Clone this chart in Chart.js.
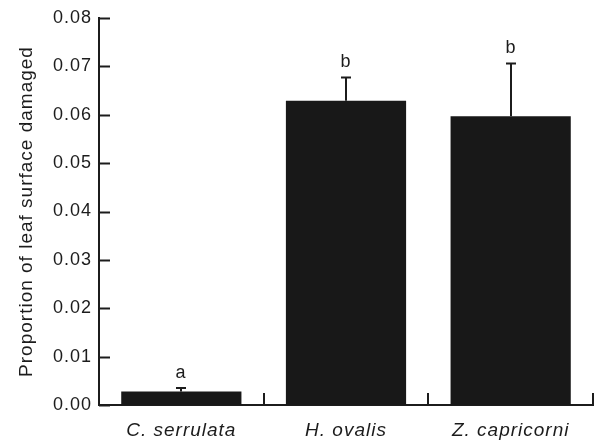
<!DOCTYPE html>
<html>
<head>
<meta charset="utf-8">
<script src="https://cdn.jsdelivr.net/npm/chart.js@4.4.1/dist/chart.umd.min.js"></script>
<style>
html, body { margin: 0; padding: 0; background: #fff; }
</style>
</head>
<body>
<canvas id="myChart" width="594" height="440"></canvas>
<script>
// data
const species = ['C. serrulata', 'H. ovalis', 'Z. capricorni'];
const meanDamage = [0.0028, 0.0629, 0.0597];
const errUp = [0.0007, 0.0048, 0.0109];
const letters = ['a', 'b', 'b'];
const yTicks = [0, 0.01, 0.02, 0.03, 0.04, 0.05, 0.06, 0.07, 0.08];

const INK = '#1c1c1c';
const FONT = "'Liberation Sans', Arial, sans-serif";

// the original lettering is a bit wider than Liberation Sans
const spacing = {
  id: 'spacing',
  beforeUpdate(chart) { chart.ctx.letterSpacing = '1px'; },
  beforeDraw(chart) { chart.ctx.letterSpacing = '1px'; }
};

// inward ticks, error bars and the letters above them
const extras = {
  id: 'extras',
  afterDatasetsDraw(chart) {
    let ctx = chart.ctx;
    let x = chart.scales.x;
    let y = chart.scales.y;
    ctx.save();
    ctx.strokeStyle = INK;
    ctx.lineWidth = 2;

    // y ticks point into the plot
    yTicks.forEach(function (v) {
      let py = Math.round(y.getPixelForValue(v)) + 0.5;
      ctx.beginPath();
      ctx.moveTo(x.left, py);
      ctx.lineTo(x.left + 11, py);
      ctx.stroke();
    });

    // x ticks at category boundaries, pointing up
    for (let i = 1; i <= species.length; i++) {
      let px = Math.round(x.getPixelForValue(i - 0.5));
      if (px > chart.width - 1) px = chart.width - 1;
      ctx.beginPath();
      ctx.moveTo(px, y.bottom);
      ctx.lineTo(px, y.bottom - 12);
      ctx.stroke();
    }

    // error bars (upper only)
    ctx.font = '18px ' + FONT;
    ctx.fillStyle = INK;
    ctx.textAlign = 'center';
    ctx.textBaseline = 'middle';
    for (let i = 0; i < species.length; i++) {
      let px = Math.round(x.getPixelForValue(i));
      let yTop = y.getPixelForValue(meanDamage[i]);
      let yErr = y.getPixelForValue(meanDamage[i] + errUp[i]);
      ctx.beginPath();
      ctx.moveTo(px, yTop);
      ctx.lineTo(px, yErr);
      ctx.moveTo(px - 5, yErr);
      ctx.lineTo(px + 5, yErr);
      ctx.stroke();
      ctx.fillText(letters[i], px, yErr - 15);
    }
    ctx.restore();
  }
};

let ctx = document.getElementById('myChart').getContext('2d');
let myChart = new Chart(ctx, {
  type: 'bar',
  data: {
    labels: species,
    datasets: [{
      data: meanDamage,
      backgroundColor: '#181818',
      borderWidth: 0,
      barPercentage: 0.73,
      categoryPercentage: 1
    }]
  },
  options: {
    responsive: false,
    animation: false,
    layout: { padding: { top: 18, right: 1, left: 0, bottom: 0 } },
    plugins: {
      legend: { display: false },
      tooltip: { enabled: false }
    },
    scales: {
      x: {
        offset: true,
        grid: { display: false, drawTicks: false },
        border: { display: true, color: INK, width: 2 },
        ticks: {
          color: INK,
          padding: 14,
          font: { family: FONT, size: 19, style: 'italic' }
        },
        afterFit: function (scale) { scale.height = 35; }
      },
      y: {
        min: 0,
        max: 0.08,
        grid: { display: false, drawTicks: false },
        border: { display: true, color: INK, width: 2 },
        afterBuildTicks: function (scale) {
          scale.ticks = yTicks.map(function (v) { return { value: v }; });
        },
        ticks: {
          color: INK,
          padding: 7,
          font: { family: FONT, size: 18 },
          callback: function (v) { return Number(v).toFixed(2); }
        },
        title: {
          display: true,
          text: 'Proportion of leaf surface damaged',
          color: INK,
          padding: { top: 15, bottom: 0 },
          font: { family: FONT, size: 19 }
        },
        afterFit: function (scale) { scale.width = 99; }
      }
    }
  },
  plugins: [spacing, extras]
});
</script>
</body>
</html>
